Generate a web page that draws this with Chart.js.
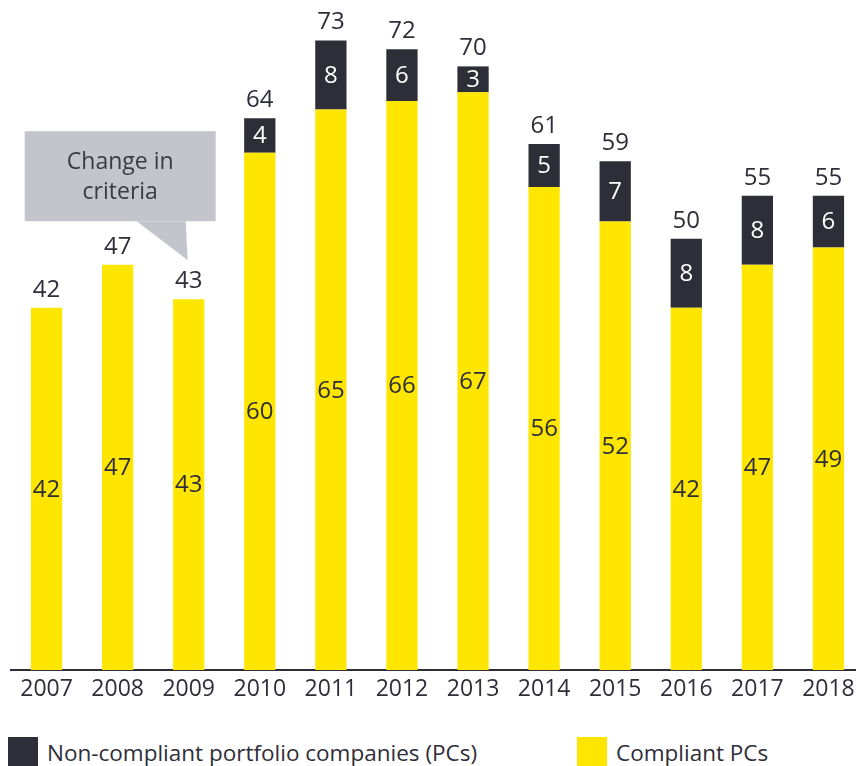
<!DOCTYPE html>
<html>
<head>
<meta charset="utf-8">
<script src="https://cdn.jsdelivr.net/npm/chart.js@4.4.1/dist/chart.umd.min.js"></script>
<style>
  html,body{margin:0;padding:0;background:#fff;width:856px;height:766px;overflow:hidden;}
  #wrap{position:absolute;left:0;top:0;width:870px;height:720px;}
  .leg{position:absolute;top:737px;height:30px;display:flex;align-items:center;
       font-family:'Open Sans',sans-serif;font-size:22.5px;color:#2e2e38;white-space:nowrap;}
  .leg i{display:inline-block;width:30px;height:30px;margin-right:9px;}
</style>
</head>
<body>
<div id="wrap"><canvas id="chart" width="870" height="720"></canvas></div>
<div class="leg" style="left:8px"><i style="background:#2e2e38"></i>Non-compliant portfolio companies (PCs)</div>
<div class="leg" style="left:577px"><i style="background:#ffe600"></i>Compliant PCs</div>
<script>
// ---- data ----
const years        = ['2007','2008','2009','2010','2011','2012','2013','2014','2015','2016','2017','2018'];
const compliant    = [42, 47, 43, 60, 65, 66, 67, 56, 52, 42, 47, 49];
const nonCompliant = [null, null, null, 4, 8, 6, 3, 5, 7, 8, 8, 6];
const calloutLines = ['Change in', 'criteria'];

const YELLOW = '#ffe600', DARK = '#2e2e38', GREY = '#c4c4cd';
const FONT = "'Open Sans', sans-serif";

// labels inside segments + totals on top
const barLabels = {
  id:'barLabels',
  afterDatasetsDraw(chart){
    const ctx = chart.ctx, xs = chart.scales.x, ys = chart.scales.y;
    ctx.save();
    ctx.font = '24px ' + FONT;
    ctx.textAlign = 'center';
    ctx.textBaseline = 'middle';
    chart.data.datasets.forEach((ds,di)=>{
      chart.getDatasetMeta(di).data.forEach((bar,i)=>{
        const v = ds.data[i];
        if(!v) return;
        const p = bar.getProps(['x','y','base'], true);
        ctx.fillStyle = di===0 ? DARK : '#fff';
        ctx.fillText(String(v), p.x, (p.y+p.base)/2 + 1);
      });
    });
    ctx.fillStyle = DARK;
    years.forEach((yr,i)=>{
      const t = compliant[i] + (nonCompliant[i]||0);
      ctx.fillText(String(t), xs.getPixelForValue(i), ys.getPixelForValue(t) - 18);
    });
    ctx.restore();
  }
};

// "Change in criteria" speech box pointing at the 2009 bar
const callout = {
  id:'callout',
  afterDraw(chart){
    const ctx = chart.ctx, xs = chart.scales.x, ys = chart.scales.y;
    const i = years.indexOf('2009');
    const tipX = xs.getPixelForValue(i) - 1;
    const tipY = ys.getPixelForValue(compliant[i]) - 39;
    const L = tipX - 163, R = tipX + 28, T = tipY - 129, B = tipY - 39;
    ctx.save();
    ctx.fillStyle = GREY;
    ctx.fillRect(L, T, R-L, B-T);
    ctx.beginPath();
    ctx.moveTo(tipX - 51, B);
    ctx.lineTo(tipX - 2, B);
    ctx.lineTo(tipX, tipY);
    ctx.closePath();
    ctx.fill();
    ctx.fillStyle = '#3a3a44';
    ctx.font = '23px ' + FONT;
    ctx.textAlign = 'center';
    ctx.textBaseline = 'middle';
    const cx = (L+R)/2;
    ctx.fillText(calloutLines[0], cx, T + 31);
    ctx.fillText(calloutLines[1], cx, T + 61);
    ctx.restore();
  }
};

new Chart(document.getElementById('chart'), {
  type:'bar',
  data:{
    labels: years,
    datasets:[
      {label:'Compliant PCs', data:compliant, backgroundColor:YELLOW,
       barPercentage:0.44, categoryPercentage:1},
      {label:'Non-compliant portfolio companies (PCs)', data:nonCompliant, backgroundColor:DARK,
       barPercentage:0.44, categoryPercentage:1}
    ]
  },
  options:{
    responsive:false,
    animation:false,
    layout:{padding:{left:11, right:6, top:0, bottom:0}},
    plugins:{legend:{display:false}, tooltip:{enabled:false}},
    scales:{
      x:{
        stacked:true,
        grid:{display:false, drawTicks:false},
        border:{display:true, color:DARK, width:2},
        ticks:{color:DARK, font:{family:FONT, size:23}, padding:6, maxRotation:0},
        afterFit(s){ s.height = 50; }
      },
      y:{stacked:true, display:false, min:0, max:77.7}
    }
  },
  plugins:[barLabels, callout]
});
</script>
</body>
</html>
